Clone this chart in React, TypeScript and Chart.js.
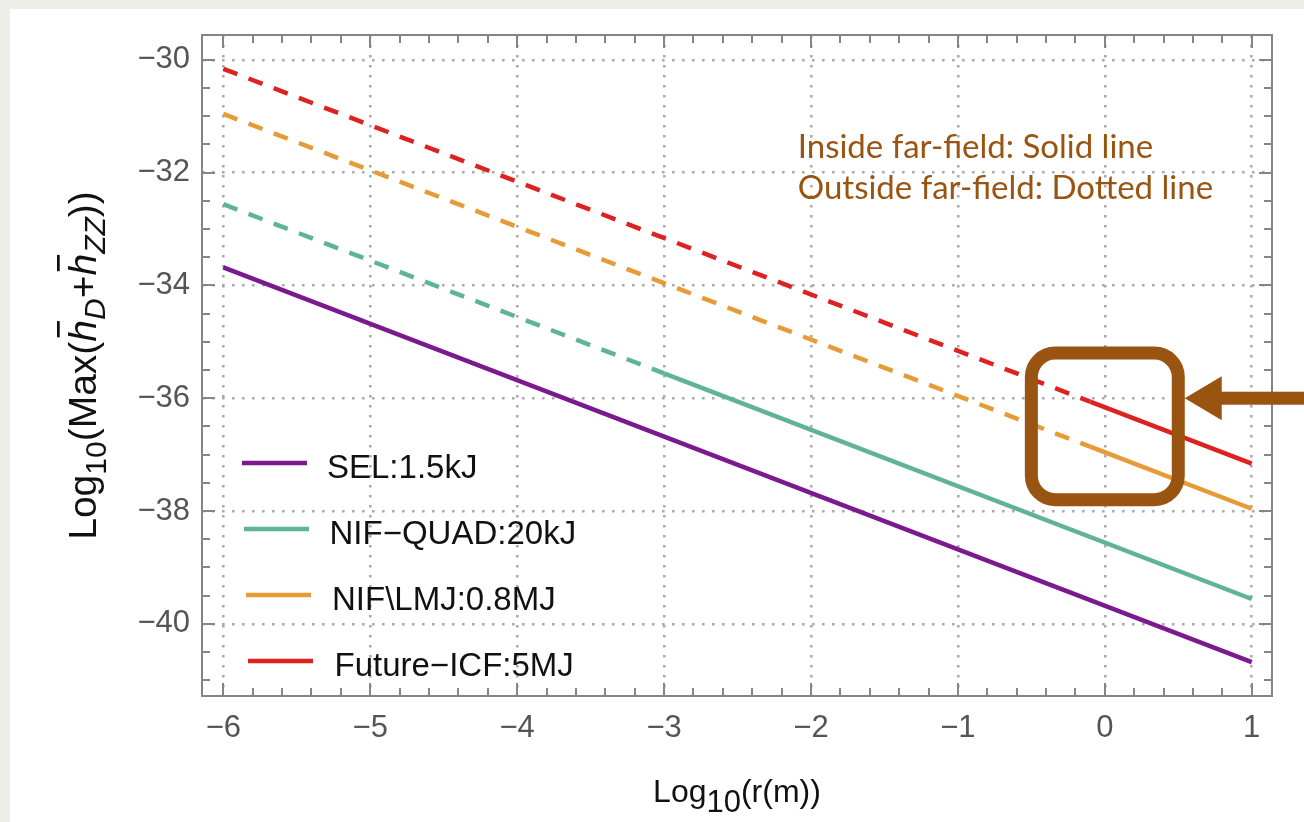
import React, { useEffect, useRef } from 'react';
import { Chart, registerables } from 'chart.js';

Chart.register(...registerables);

// ---------- data ----------
const seriesLabels = ['SEL:1.5kJ', 'NIF\u2212QUAD:20kJ', 'NIF\\LMJ:0.8MJ', 'Future\u2212ICF:5MJ'];
const seriesColors = ['#7b1a8f', '#5fb39b', '#e79b36', '#dd2222'];

const selSolidX = [-6, 1];
const selSolidY = [-33.68, -40.68];

const quadDashedX = [-6, -3];
const quadDashedY = [-32.56, -35.56];
const quadSolidX = [-3, 1];
const quadSolidY = [-35.56, -39.56];

const lmjDashedX = [-6, -0.1];
const lmjDashedY = [-30.96, -36.86];
const lmjSolidX = [-0.1, 1];
const lmjSolidY = [-36.86, -37.96];

const icfDashedX = [-6, -0.1];
const icfDashedY = [-30.16, -36.06];
const icfSolidX = [-0.1, 1];
const icfSolidY = [-36.06, -37.16];

const xTickValues = [-6, -5, -4, -3, -2, -1, 0, 1];
const yTickValues = [-40, -38, -36, -34, -32, -30];
const xRange = [-6.145, 1.138];
const yRange = [-41.28, -29.56];

const noteLines = ['Inside far-field: Solid line', 'Outside far-field: Dotted line'];
const noteX = -2.09;
const noteY = [-31.74, -32.47];
const focusBoxX = [-0.5, 0.5];
const focusBoxY = [-37.8, -35.2];
const arrowY = -36;

// ---------- helpers ----------
const pts = (xs: number[], ys: number[]) => xs.map((x, i) => ({ x, y: ys[i] }));
const fmt = (v: number) => String(v).replace('-', '\u2212');

type Part = { t: string; size: number; italic?: boolean; dy?: number; bar?: boolean };

function drawRich(ctx: CanvasRenderingContext2D, parts: Part[], family: string, cx: number, cy: number) {
  const widths: number[] = [];
  let total = 0;
  for (const p of parts) {
    ctx.font = `${p.italic ? 'italic ' : ''}${p.size}px ${family}`;
    const w = ctx.measureText(p.t).width;
    widths.push(w);
    total += w;
  }
  let x = cx - total / 2;
  parts.forEach((p, i) => {
    ctx.font = `${p.italic ? 'italic ' : ''}${p.size}px ${family}`;
    ctx.fillText(p.t, x, cy + (p.dy || 0));
    if (p.bar) {
      ctx.fillRect(x + widths[i] * 0.2, cy - p.size * 1.0, widths[i] * 0.75, Math.max(2.5, p.size * 0.07));
    }
    x += widths[i];
  });
}

const FAMILY = '"Liberation Sans", Arial, Helvetica, sans-serif';

const decorPlugin = {
  id: 'decor',
  beforeDraw(chart: any) {
    const { ctx, width, height } = chart;
    ctx.save();
    ctx.fillStyle = 'rgb(239,237,232)';
    ctx.fillRect(0, 0, width, height);
    ctx.fillStyle = '#ffffff';
    ctx.fillRect(10, 9, width - 10, height - 9);
    ctx.restore();
  },
  afterDatasetsDraw(chart: any) {
    const { ctx, chartArea: a, scales } = chart;
    const xs = scales.x;
    const ys = scales.y;
    ctx.save();
    ctx.strokeStyle = '#858585';
    ctx.lineWidth = 2;
    ctx.strokeRect(a.left, a.top, a.right - a.left, a.bottom - a.top);
    ctx.lineWidth = 2;
    ctx.beginPath();
    const xStep = 0.2;
    for (let v = Math.ceil(xRange[0] / xStep) * xStep; v <= xRange[1] + 1e-9; v += xStep) {
      const major = Math.abs(v - Math.round(v)) < 1e-6;
      const len = major ? 13 : 8;
      const px = Math.round(xs.getPixelForValue(v));
      ctx.moveTo(px, a.bottom);
      ctx.lineTo(px, a.bottom - len);
      ctx.moveTo(px, a.top);
      ctx.lineTo(px, a.top + len);
    }
    const yStep = 0.5;
    for (let v = Math.ceil(yRange[0] / yStep) * yStep; v <= yRange[1] + 1e-9; v += yStep) {
      const major = Math.abs(v / 2 - Math.round(v / 2)) < 1e-6;
      const len = major ? 13 : 8;
      const py = Math.round(ys.getPixelForValue(v));
      ctx.moveTo(a.left, py);
      ctx.lineTo(a.left + len, py);
      ctx.moveTo(a.right, py);
      ctx.lineTo(a.right - len, py);
    }
    ctx.stroke();
    ctx.restore();
  },
  afterDraw(chart: any) {
    const { ctx, chartArea: a, scales, width } = chart;
    const xs = scales.x;
    const ys = scales.y;
    ctx.save();

    // legend
    ctx.textBaseline = 'alphabetic';
    ctx.textAlign = 'left';
    seriesLabels.forEach((lab, i) => {
      const cy = a.top + 428 + i * 66;
      ctx.strokeStyle = seriesColors[i];
      ctx.lineWidth = 4.5;
      ctx.beginPath();
      ctx.moveTo(a.left + 40 + i * 2, cy);
      ctx.lineTo(a.left + 105 + i * 2, cy);
      ctx.stroke();
      ctx.fillStyle = '#111';
      ctx.font = `33px ${FAMILY}`;
      ctx.fillText(lab, a.left + 125 + i * 2.5, cy + 15);
    });

    // axis titles
    ctx.fillStyle = '#111';
    drawRich(ctx, [
      { t: 'Log', size: 32 },
      { t: '10', size: 31, dy: 10 },
      { t: '(r(m))', size: 32 },
    ], FAMILY, (a.left + a.right) / 2, 802);

    ctx.save();
    ctx.translate(96, (a.top + a.bottom) / 2);
    ctx.rotate(-Math.PI / 2);
    drawRich(ctx, [
      { t: 'Log', size: 39 },
      { t: '10', size: 30, dy: 10 },
      { t: '(Max(', size: 39 },
      { t: 'h', size: 39, italic: true, bar: true },
      { t: 'D', size: 30, italic: true, dy: 9 },
      { t: '+', size: 39 },
      { t: 'h', size: 39, italic: true, bar: true },
      { t: 'ZZ', size: 30, italic: true, dy: 9 },
      { t: '))', size: 39 },
    ], FAMILY, 0, 0);
    ctx.restore();

    // annotation text
    ctx.fillStyle = '#985410';
    ctx.font = '400 33px Lato, "Open Sans", sans-serif';
    noteLines.forEach((t, i) => {
      ctx.fillText(t, xs.getPixelForValue(noteX), ys.getPixelForValue(noteY[i]));
    });

    // focus box
    const bx0 = xs.getPixelForValue(focusBoxX[0]);
    const bx1 = xs.getPixelForValue(focusBoxX[1]);
    const by0 = ys.getPixelForValue(focusBoxY[1]);
    const by1 = ys.getPixelForValue(focusBoxY[0]);
    ctx.strokeStyle = '#985410';
    ctx.lineWidth = 13;
    ctx.beginPath();
    (ctx as any).roundRect(bx0, by0, bx1 - bx0, by1 - by0, 24);
    ctx.stroke();

    // arrow
    const ay = ys.getPixelForValue(arrowY);
    const tip = bx1 + 6.5;
    const back = tip + 37;
    ctx.fillStyle = '#985410';
    ctx.beginPath();
    ctx.moveTo(tip, ay);
    ctx.lineTo(back, ay - 22);
    ctx.lineTo(back, ay + 22);
    ctx.closePath();
    ctx.fill();
    ctx.fillRect(back - 1, ay - 6.5, width - back + 1, 13);

    ctx.restore();
  },
};

export default function App() {
  const ref = useRef<HTMLCanvasElement>(null);
  useEffect(() => {
    if (!ref.current) return;
    const common = { pointRadius: 0, borderWidth: 4.5, fill: false, tension: 0, borderCapStyle: 'butt' as const };
    const dash = [15, 12];
    const chart = new Chart(ref.current, {
      type: 'line',
      data: {
        datasets: [
          { label: seriesLabels[0], data: pts(selSolidX, selSolidY), borderColor: seriesColors[0], ...common },
          { label: seriesLabels[1], data: pts(quadSolidX, quadSolidY), borderColor: seriesColors[1], ...common },
          { label: seriesLabels[1] + ' outside', data: pts(quadDashedX, quadDashedY), borderColor: seriesColors[1], borderDash: dash, ...common },
          { label: seriesLabels[2], data: pts(lmjSolidX, lmjSolidY), borderColor: seriesColors[2], ...common },
          { label: seriesLabels[2] + ' outside', data: pts(lmjDashedX, lmjDashedY), borderColor: seriesColors[2], borderDash: dash, ...common },
          { label: seriesLabels[3], data: pts(icfSolidX, icfSolidY), borderColor: seriesColors[3], ...common },
          { label: seriesLabels[3] + ' outside', data: pts(icfDashedX, icfDashedY), borderColor: seriesColors[3], borderDash: dash, ...common },
        ],
      },
      options: {
        responsive: false,
        animation: false,
        events: [],
        layout: { padding: { top: 35, right: 32, left: 0, bottom: 0 } },
        plugins: { legend: { display: false }, tooltip: { enabled: false } },
        scales: {
          x: {
            type: 'linear',
            min: xRange[0],
            max: xRange[1],
            afterBuildTicks: (s: any) => { s.ticks = xTickValues.map((v) => ({ value: v })); },
            afterFit: (s: any) => { s.height = 126; },
            ticks: {
              callback: (v: any) => fmt(Number(v)),
              font: { family: FAMILY, size: 31 },
              color: '#555555',
              padding: 14,
              maxRotation: 0,
              autoSkip: false,
            },
            grid: { color: '#ababab', lineWidth: 2.6, drawTicks: false },
            border: { display: false, dash: [2.6, 7.4] },
          },
          y: {
            type: 'linear',
            min: yRange[0],
            max: yRange[1],
            afterBuildTicks: (s: any) => { s.ticks = yTickValues.map((v) => ({ value: v })); },
            afterFit: (s: any) => { s.width = 202; },
            ticks: {
              callback: (v: any) => fmt(Number(v)),
              font: { family: FAMILY, size: 31 },
              color: '#555555',
              padding: 12,
              autoSkip: false,
            },
            grid: { color: '#ababab', lineWidth: 2.6, drawTicks: false },
            border: { display: false, dash: [2.6, 7.4] },
          },
        },
      },
      plugins: [decorPlugin],
    } as any);
    return () => chart.destroy();
  }, []);

  return (
    <div style={{ position: 'fixed', left: 0, top: 0, width: 1304, height: 822 }}>
      <canvas ref={ref} width={1304} height={822} />
    </div>
  );
}
